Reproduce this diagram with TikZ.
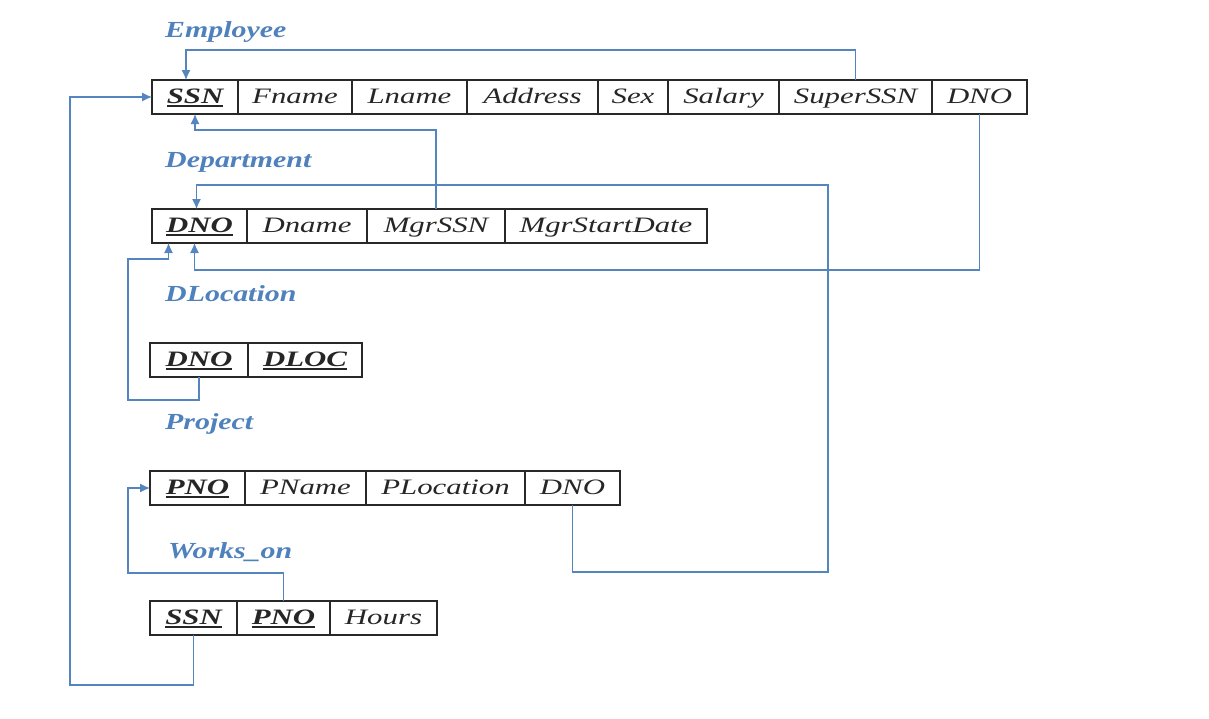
\documentclass[tikz,border=0pt]{standalone}
\usepackage{fontspec}
\setmainfont{Liberation Serif}
\usepackage{graphicx}
\usepackage{xcolor}
\usepackage{tikz}
\usetikzlibrary{positioning, arrows.meta}

\definecolor{fkblue}{RGB}{84,133,190}
\definecolor{relblue}{RGB}{79,129,189}
\definecolor{boxgray}{RGB}{40,40,40}
% stretched text and underlined key attributes
\newcommand{\wide}[1]{\scalebox{1.3}[1]{#1}}
\newcommand{\cellwide}[1]{\scalebox{1.4}[1]{#1}}
\newcommand{\keyattr}[1]{\setbox0=\hbox{\bfseries #1}\rlap{\raisebox{0pt}[0pt][0pt]{\rule[-4pt]{\wd0}{2.2pt}}}\box0}

\begin{document}
\begin{tikzpicture}[x=1pt, y=-1pt]
    % Define the styles
    \tikzstyle{cell} = [rectangle, draw=boxgray, line width=1.3pt, outer sep=0pt, inner sep=0pt, minimum height=34pt, text height=15pt, text depth=3pt, text=black!85, font=\itshape\fontsize{22}{22}\selectfont]
    \tikzstyle{relname} = [anchor=west, inner sep=0pt, text=relblue, font=\bfseries\itshape\fontsize{23}{23}\selectfont]
    \tikzstyle{fk} = [draw=fkblue, line width=1.2pt, -{Latex[length=10pt, width=9pt]}]

    \useasboundingbox (0,0) rectangle (1209,718);

    % Employee
    \node [relname] (lemp) at (165,32) {\wide{Employee}};
    \node [cell, minimum width=86pt, anchor=west] (essn) at (152,97) {\cellwide{\keyattr{SSN}}};
    \node [cell, minimum width=114pt, right=0pt of essn] (efname) {\cellwide{Fname}};
    \node [cell, minimum width=115pt, right=0pt of efname] (elname) {\cellwide{Lname}};
    \node [cell, minimum width=131pt, right=0pt of elname] (eaddr) {\cellwide{Address}};
    \node [cell, minimum width=70pt, right=0pt of eaddr] (esex) {\cellwide{Sex}};
    \node [cell, minimum width=111pt, right=0pt of esex] (esal) {\cellwide{Salary}};
    \node [cell, minimum width=153pt, right=0pt of esal] (esuper) {\cellwide{SuperSSN}};
    \node [cell, minimum width=95pt, right=0pt of esuper] (edno) {\cellwide{DNO}};

    % Department
    \node [relname] (ldept) at (165,162) {\wide{Department}};
    \node [cell, minimum width=95pt, anchor=west] (ddno) at (152,226) {\cellwide{\keyattr{DNO}}};
    \node [cell, minimum width=120pt, right=0pt of ddno] (dname) {\cellwide{Dname}};
    \node [cell, minimum width=138pt, right=0pt of dname] (dmgr) {\cellwide{MgrSSN}};
    \node [cell, minimum width=202pt, right=0pt of dmgr] (dstart) {\cellwide{MgrStartDate}};

    % DLocation
    \node [relname] (lloc) at (165,294) {\wide{DLocation}};
    \node [cell, minimum width=98pt, anchor=west] (ldno) at (150,360) {\cellwide{\keyattr{DNO}}};
    \node [cell, minimum width=114pt, right=0pt of ldno] (lloca) {\cellwide{\keyattr{DLOC}}};

    % Project
    \node [relname] (lproj) at (165,424) {\wide{Project}};
    \node [cell, minimum width=95pt, anchor=west] (ppno) at (150,488) {\cellwide{\keyattr{PNO}}};
    \node [cell, minimum width=121pt, right=0pt of ppno] (pname) {\cellwide{PName}};
    \node [cell, minimum width=159pt, right=0pt of pname] (ploc) {\cellwide{PLocation}};
    \node [cell, minimum width=95pt, right=0pt of ploc] (pdno) {\cellwide{DNO}};

    % Works_on
    \node [relname] (lworks) at (168,552) {\wide{Works\_on}};
    \node [cell, minimum width=87pt, anchor=west] (wssn) at (150,618) {\cellwide{\keyattr{SSN}}};
    \node [cell, minimum width=93pt, right=0pt of wssn] (wpno) {\cellwide{\keyattr{PNO}}};
    \node [cell, minimum width=107pt, right=0pt of wpno] (whours) {\cellwide{Hours}};

    % Foreign keys
    \path [fk] (esuper.north) -- ++(0,-30) -| ([xshift=-9pt]essn.north);
    \path [fk] (dmgr.north) -- ++(0,-79) -| (essn.south);
    \path [fk] (edno.south) -- ++(0,156) -| ([xshift=-5pt]ddno.south);
    \path [fk] (pdno.south) |- (828,572) -- (828,185) -| ([xshift=-3pt]ddno.north);
    \path [fk] (ldno.south) -- ++(0,23) -| (128,259) -| ([xshift=-31pt]ddno.south);
    \path [fk] (wpno.north) |- (128,573) |- (ppno.west);
    \path [fk] (wssn.south) |- (70,685) |- (essn.west);
\end{tikzpicture}
\end{document}
